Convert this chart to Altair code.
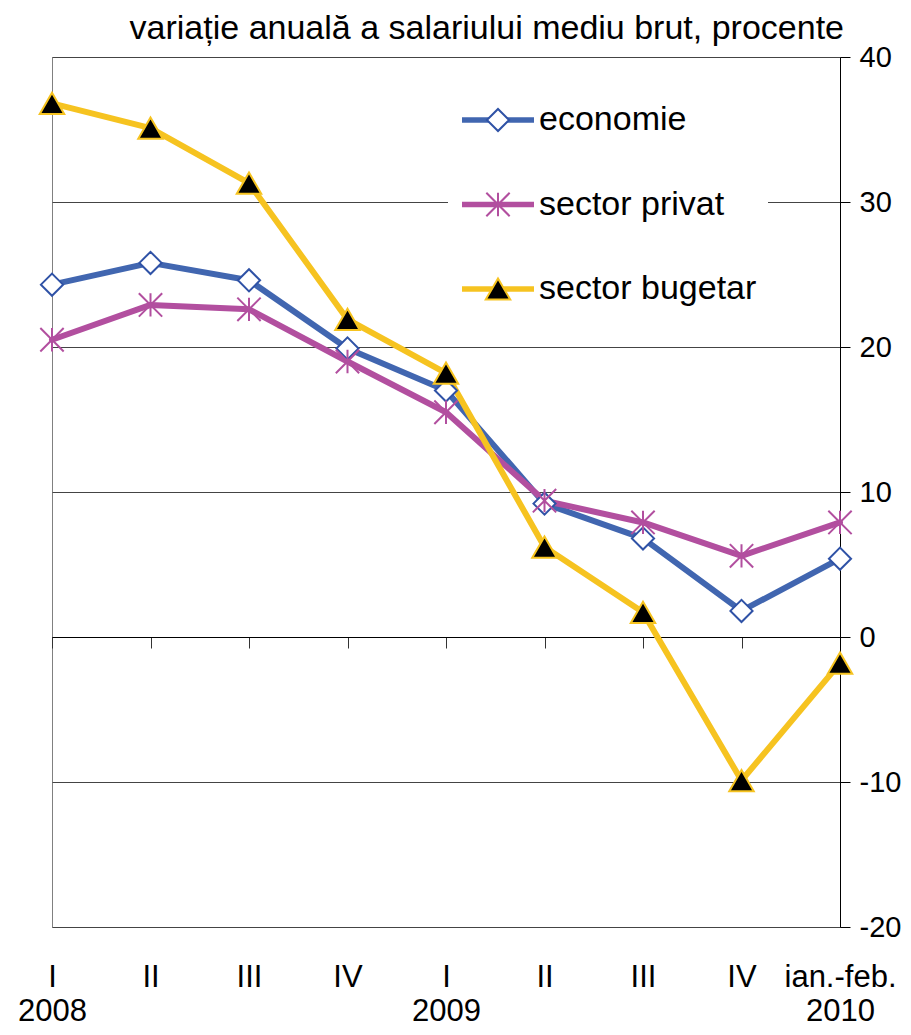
import altair as alt
import pandas as pd

# ---------------- data ----------------
quarters = ["I", "II", "III", "IV", "I", "II", "III", "IV", "ian.-feb."]
years = ["2008", "", "", "", "2009", "", "", "", "2010"]
series_names = ["economie", "sector privat", "sector bugetar"]
marker_names = ["diamond", "star", "triangle"]
economie = [24.3, 25.8, 24.6, 19.9, 17.0, 9.2, 6.8, 1.8, 5.4]
sector_privat = [20.5, 22.9, 22.6, 19.0, 15.5, 9.4, 7.9, 5.6, 7.9]
sector_bugetar = [36.8, 35.1, 31.3, 21.9, 18.2, 6.2, 1.7, -9.9, -1.8]
y_ticks = [-20, -10, 0, 10, 20, 30, 40]
title_text = "variație anuală a salariului mediu brut, procente"

# ---------------- styles ----------------
line_colors = ["#4166B0", "#B24F9F", "#F6C320"]
marker_strokes = ["#2F52A6", "#B24F9F", "#F6C320"]
marker_fills = ["#FFFFFF", "transparent", "#000000"]
marker_shapes = ["diamond", "M0,-1L0,1M-1,-1L1,1M-1,1L1,-1", "triangle-up"]
marker_sizes = [490, 600, 720]
FONT = "Liberation Sans"

keys = [f"{i}|{q}|{y}" for i, (q, y) in enumerate(zip(quarters, years))]
rows = []
for s, m, vals in zip(series_names, marker_names, [economie, sector_privat, sector_bugetar]):
    for k, v in zip(keys, vals):
        rows.append({"key": k, "series": s, "marker": m, "value": v})
df = pd.DataFrame(rows)

x_scale = alt.Scale(type="point", domain=keys, padding=0)
y_scale = alt.Scale(domain=[-20, 40], nice=False, zero=False)

y_axis = alt.Axis(orient="right", values=y_ticks, tickSize=10, tickColor="black",
                  domainColor="black", labelPadding=9, labelAlign="left",
                  labelFontSize=29, labelFont=FONT, labelColor="black",
                  labelExpr="'' + datum.value",
                  grid=True, gridColor="#444444", gridWidth=1, title=None)

label_axis = alt.Axis(orient="bottom", domain=False, ticks=False, grid=False,
                      labelExpr="slice(split(datum.value, '|'), 1)",
                      labelBaseline="alphabetic", labelPadding=59, labelLineHeight=34,
                      labelFontSize=31, labelFont=FONT, labelColor="black",
                      labelAngle=0, title=None, labelOverlap=False)
zero_axis = alt.Axis(orient="bottom", offset=-290, domain=True, domainColor="black",
                     domainWidth=1, ticks=True, tickSize=11, tickColor="#333333",
                     labels=False, grid=False, title=None)

legend_lines = alt.Legend(orient="none", legendX=396, legendY=13, title=None,
                          fillColor="white", padding=11, symbolType="stroke",
                          symbolSize=5184, symbolStrokeWidth=5.5,
                          labelFontSize=34, labelFont=FONT, labelColor="black",
                          labelOffset=2, labelLimit=500, rowPadding=28.5, zindex=1)
legend_marks = alt.Legend(orient="none", legendX=429, legendY=46, title=None,
                          padding=0, symbolStrokeWidth=2, labelFontSize=34,
                          labelFont=FONT, labelExpr="''", rowPadding=50.5, zindex=2)

base = alt.Chart(df)

layers = []
for i, s in enumerate(series_names):
    if i == 0:
        xa = zero_axis
    elif i == 1:
        xa = label_axis
    else:
        xa = None
    layers.append(
        base.transform_filter(alt.datum.series == s)
        .mark_line(strokeWidth=6, strokeJoin="round", strokeCap="round")
        .encode(
            x=alt.X("key:N", scale=x_scale, axis=xa, sort=keys),
            y=alt.Y("value:Q", scale=y_scale, axis=y_axis),
            color=alt.Color("series:N", scale=alt.Scale(domain=series_names, range=line_colors),
                            legend=legend_lines),
        )
    )
for i, s in enumerate(series_names):
    layers.append(
        base.transform_filter(alt.datum.series == s)
        .mark_point(filled=True, opacity=1, strokeWidth=2)
        .encode(
            x=alt.X("key:N", scale=x_scale, axis=None, sort=keys),
            y=alt.Y("value:Q", scale=y_scale, axis=y_axis),
            shape=alt.Shape("marker:N", scale=alt.Scale(domain=marker_names, range=marker_shapes),
                            legend=legend_marks),
            fill=alt.Fill("marker:N", scale=alt.Scale(domain=marker_names, range=marker_fills),
                          legend=legend_marks),
            stroke=alt.Stroke("marker:N", scale=alt.Scale(domain=marker_names, range=marker_strokes),
                              legend=legend_marks),
            size=alt.Size("marker:O", scale=alt.Scale(domain=marker_names, range=marker_sizes),
                          legend=legend_marks),
        )
    )

chart = (
    alt.layer(*layers)
    .resolve_axis(x="independent")
    .properties(
        width=788, height=870,
        title=alt.TitleParams(text=title_text, anchor="end", orient="top", frame="group",
                              fontSize=34, font=FONT, fontWeight="normal", color="black",
                              offset=13, dy=16, dx=4),
        autosize=alt.AutoSizeParams(type="none"),
        padding={"left": 44, "top": 49, "right": 63, "bottom": 100},
    )
    .configure_view(stroke="#808080", strokeWidth=1)
)

chart.save("out.html", embed_options={"renderer": "svg", "actions": False})
